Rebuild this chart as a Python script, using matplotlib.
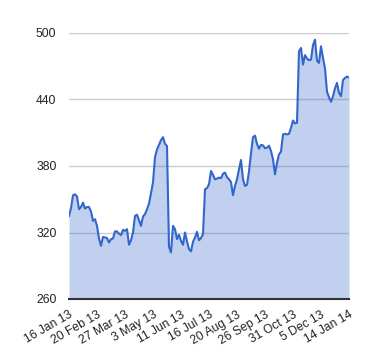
import matplotlib
matplotlib.use("Agg")
import matplotlib.pyplot as plt

plt.rcParams['font.family'] = ['Liberation Sans', 'DejaVu Sans']

# closing prices at evenly spaced steps
prices = [
    335, 342, 353.6, 354.5, 352.5, 341, 343, 347, 341.6, 343,
    343, 339, 330.5, 332, 326, 314.6, 308, 316, 315.5, 315,
    311, 314, 314.6, 321, 321, 319, 317.6, 322.4, 321.5, 323,
    309, 313, 320, 335, 336, 331, 326, 334.4, 336.5, 341,
    346, 355.5, 365, 388, 395, 399, 403.4, 406, 400, 398,
    307, 302, 326, 323, 314, 318, 312.5, 309, 320, 312,
    305, 303, 311.6, 315.5, 320.6, 313, 315, 318.5, 359, 360,
    363.5,
    375.5, 372, 368, 368.6, 369.5, 369, 373, 374, 370, 368,
    365.5, 353.6, 362, 368, 377, 385.4, 368, 362, 363, 375,
    391.5, 406, 407.4, 400, 395.6, 399, 398.6, 396, 396.5, 398.3,
    393.5, 386, 372.5, 383, 390.5, 393, 408.5, 409, 408.5, 409,
    414.5, 421, 418.4, 419, 483.5, 486.5, 471.5, 480, 477, 475.5,
    476, 489, 494, 475, 473, 488, 477.5, 468, 447, 442,
    438, 443, 450, 455, 446, 443, 457.5, 459.5, 460.7, 459.8,
]
date_labels = ["16 Jan 13", "20 Feb 13", "27 Mar 13", "3 May 13", "11 Jun 13",
               "16 Jul 13", "20 Aug 13", "26 Sep 13", "31 Oct 13", "5 Dec 13",
               "14 Jan 14"]
y_ticks = [260, 320, 380, 440, 500]

x = list(range(len(prices)))
label_pos = [i * (len(prices) - 1) / (len(date_labels) - 1) for i in range(len(date_labels))]

fig = plt.figure(figsize=(3.8, 3.6), dpi=100)
ax = fig.add_axes([69 / 380, 61 / 360, 280 / 380, 266 / 360])

line_color = '#3366cc'
ax.fill_between(x, prices, 260, color=line_color, alpha=0.3, linewidth=0, zorder=2)
ax.plot(x, prices, color=line_color, linewidth=1.5, zorder=3)

ax.set_xlim(0, len(prices) - 1)
ax.set_ylim(260, 500)
ax.set_yticks(y_ticks)
ax.set_yticklabels([str(v) for v in y_ticks])
ax.set_xticks(label_pos)
ax.set_xticklabels(date_labels, rotation=30, ha='right', va='top', rotation_mode='anchor')

ax.grid(axis='y', color='#cccccc', linewidth=1, zorder=1)
ax.set_axisbelow(True)
for s in ['top', 'right', 'left']:
    ax.spines[s].set_visible(False)
ax.spines['bottom'].set_color('#333333')
ax.spines['bottom'].set_linewidth(1.5)
ax.spines['bottom'].set_zorder(4)

ax.tick_params(axis='both', length=0, labelsize=8.7, labelcolor='#222222')
ax.tick_params(axis='y', pad=9)
ax.tick_params(axis='x', pad=7)

fig.savefig('out.png', dpi=100)
